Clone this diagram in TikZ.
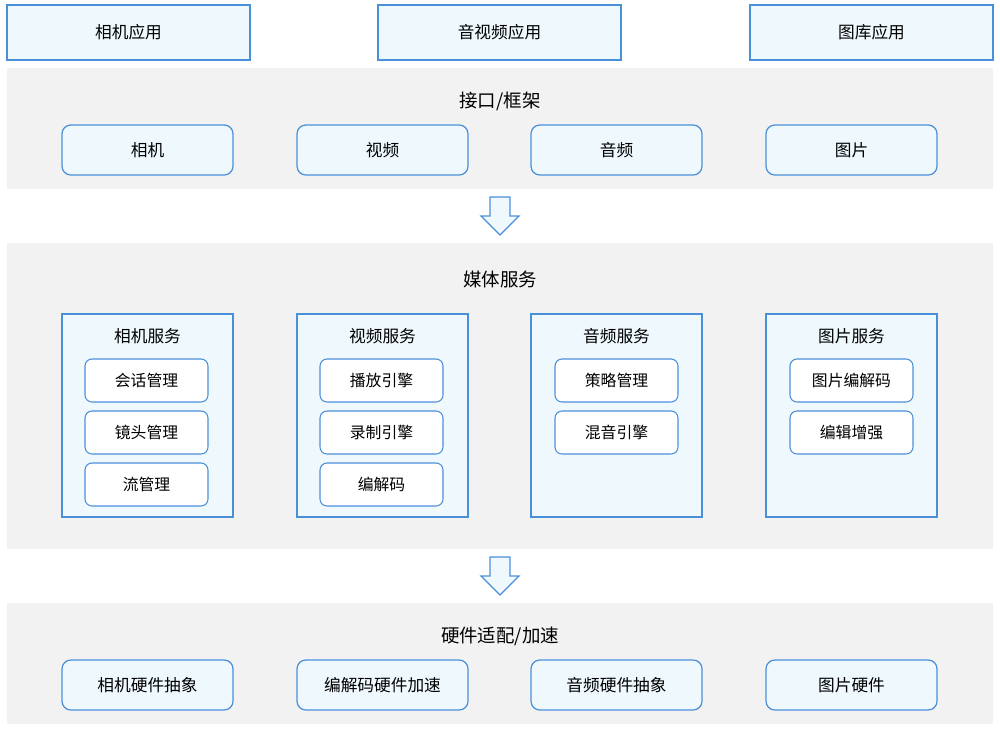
\documentclass[tikz,border=0pt]{standalone}
\usepackage{fontspec}
\setmainfont{Noto Sans CJK SC}
\usetikzlibrary{positioning}
\definecolor{lineblue}{HTML}{4A90D9}
\definecolor{boxfill}{HTML}{EEF8FD}
\definecolor{panelgray}{HTML}{F2F2F2}
\begin{document}
\begin{tikzpicture}[x=0.02cm,y=-0.02cm,
    appbox/.style={draw=lineblue, fill=boxfill, line width=0.8pt, minimum width=4.86cm, minimum height=1.1cm, font=\fontsize{9.5}{11}\selectfont},
    modbox/.style={draw=lineblue, fill=boxfill, rounded corners=5pt, line width=0.7pt, minimum width=3.42cm, minimum height=1cm, font=\fontsize{9.5}{11}\selectfont},
    subbox/.style={draw=lineblue, fill=white, rounded corners=4pt, line width=0.6pt, minimum width=2.46cm, minimum height=0.86cm, font=\fontsize{9}{11}\selectfont},
    panel/.style={fill=panelgray},
    title/.style={font=\fontsize{10.5}{12}\selectfont},
    flow/.style={draw=lineblue, fill=boxfill, line width=0.7pt}]
\useasboundingbox (0,0) rectangle (1000,731);

% applications
\node[appbox] (camapp) at (128.5,32.5) {相机应用};
\node[appbox] (avapp) at (499.5,32.5) {音视频应用};
\node[appbox] (galapp) at (871.5,32.5) {图库应用};

% interface / framework
\fill[panel] (7,68) rectangle (993,189);
\node[title] (api) at (500,101) {接口/框架};
\node[modbox] (apicam) at (147.5,150) {相机};
\node[modbox] (apivid) at (382.5,150) {视频};
\node[modbox] (apiaud) at (616.5,150) {音频};
\node[modbox] (apiimg) at (851.5,150) {图片};

% arrows between layers
\foreach \y in {197,557}
  \draw[flow] (490,\y) -- (510,\y) -- (510,\y+19) -- (519,\y+19) -- (500,\y+38)
    -- (481,\y+19) -- (490,\y+19) -- cycle;

% media services
\fill[panel] (7,243) rectangle (993,549);
\node[title] (media) at (500,279) {媒体服务};
\foreach \x/\n/\t in {147.5/cam/相机服务, 382.5/vid/视频服务, 616.5/aud/音频服务, 851.5/img/图片服务}{
  \node[draw=lineblue, fill=boxfill, line width=0.7pt, minimum width=3.42cm, minimum height=4.06cm] (\n svc) at (\x,415.5) {};
  \node[font=\fontsize{9.5}{11}\selectfont] (\n title) at (\x,336) {\t};
}
\node[subbox] (session) at (146.5,380.5) {会话管理};
\node[subbox] (lens) at (146.5,432.5) {镜头管理};
\node[subbox] (stream) at (146.5,484.5) {流管理};
\node[subbox] (play) at (381.5,380.5) {播放引擎};
\node[subbox] (record) at (381.5,432.5) {录制引擎};
\node[subbox] (codec) at (381.5,484.5) {编解码};
\node[subbox] (policy) at (616.5,380.5) {策略管理};
\node[subbox] (mixer) at (616.5,432.5) {混音引擎};
\node[subbox] (imgcodec) at (851.5,380.5) {图片编解码};
\node[subbox] (enhance) at (851.5,432.5) {编辑增强};

% hardware adaptation
\fill[panel] (7,603) rectangle (993,724);
\node[title] (hw) at (500,636) {硬件适配/加速};
\node[modbox] (hwcam) at (147.5,685) {相机硬件抽象};
\node[modbox] (hwcodec) at (382.5,685) {编解码硬件加速};
\node[modbox] (hwaud) at (616.5,685) {音频硬件抽象};
\node[modbox] (hwimg) at (851.5,685) {图片硬件};
\end{tikzpicture}
\end{document}
